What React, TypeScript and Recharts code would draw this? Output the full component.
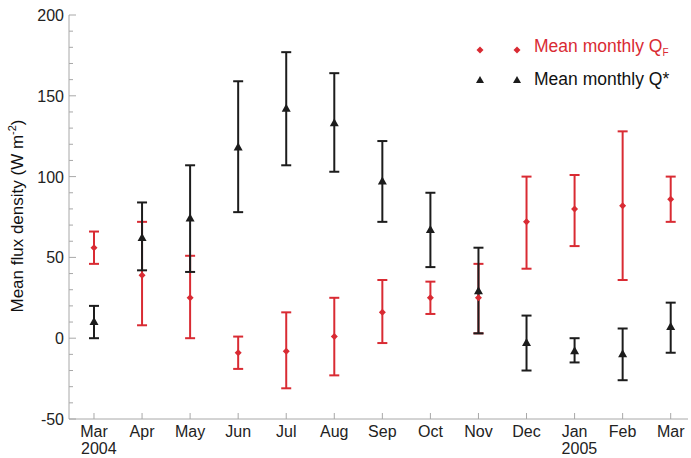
import { ComposedChart, Scatter, ErrorBar, XAxis, YAxis, Label } from 'recharts';

// months, Mar 2004 .. Mar 2005
const months = ['Mar', 'Apr', 'May', 'Jun', 'Jul', 'Aug', 'Sep', 'Oct', 'Nov', 'Dec', 'Jan', 'Feb', 'Mar'];
const years = ['2004', '', '', '', '', '', '', '', '', '', '2005', '', ''];

// mean monthly Q_F (red) with error range
const qfMean = [56, 39, 25, -9, -8, 1, 16, 25, 25, 72, 80, 82, 86];
const qfLow = [46, 8, 0, -19, -31, -23, -3, 15, 3, 43, 57, 36, 72];
const qfHigh = [66, 72, 51, 1, 16, 25, 36, 35, 46, 100, 101, 128, 100];

// mean monthly Q* (black) with error range
const qsMean = [10, 62, 74, 118, 142, 133, 97, 67, 29, -3, -8, -10, 7];
const qsLow = [0, 42, 41, 78, 107, 103, 72, 44, 3, -20, -15, -26, -9];
const qsHigh = [20, 84, 107, 159, 177, 164, 122, 90, 56, 14, 0, 6, 22];

const yTicks = [-50, -40, -30, -20, -10, 0, 10, 20, 30, 40, 50, 60, 70, 80, 90, 100, 110, 120, 130, 140, 150, 160, 170, 180, 190, 200];

const data = months.map((m, i) => ({
  x: i,
  qf: qfMean[i],
  qfErr: [qfMean[i] - qfLow[i], qfHigh[i] - qfMean[i]],
  qs: qsMean[i],
  qsErr: [qsMean[i] - qsLow[i], qsHigh[i] - qsMean[i]],
}));

const W = 691;
const H = 458;
const LEFT = 69;
const RIGHT = 688;
const TOP = 15;
const BOTTOM = 419;
const AXIS = '#a8a8a8';
const RED = '#d92b33';
const BLACK = '#1c1c1c';
const FONT = '"Liberation Sans", Arial, sans-serif';

const Diamond = (props: any) => {
  const { cx, cy } = props;
  if (cx == null || cy == null) return null;
  const r = 3.5;
  return <polygon points={`${cx},${cy - r} ${cx + r},${cy} ${cx},${cy + r} ${cx - r},${cy}`} fill={RED} />;
};

const Triangle = (props: any) => {
  const { cx, cy } = props;
  if (cx == null || cy == null) return null;
  return <polygon points={`${cx},${cy - 5} ${cx + 4.5},${cy + 3} ${cx - 4.5},${cy + 3}`} fill={BLACK} />;
};

const LeftTick = (props: any) => {
  const { y, payload } = props;
  const major = payload.value % 50 === 0;
  return (
    <g>
      <line x1={LEFT} x2={LEFT + (major ? 7 : 4)} y1={y} y2={y} stroke={AXIS} />
      {major && (
        <text x={LEFT - 5} y={y} dy={6} textAnchor="end" fontSize={16} fill="#222" fontFamily={FONT}>
          {payload.value}
        </text>
      )}
    </g>
  );
};

const RightTick = (props: any) => {
  const { y, payload } = props;
  const major = payload.value % 50 === 0;
  return <line x1={RIGHT} x2={RIGHT - (major ? 7 : 4)} y1={y} y2={y} stroke={AXIS} />;
};

const BottomTick = (props: any) => {
  const { x, payload } = props;
  const i = payload.value;
  return (
    <g>
      <line x1={x} x2={x} y1={BOTTOM} y2={BOTTOM - 6} stroke={AXIS} />
      <text x={x} y={437} textAnchor="middle" fontSize={16} fill="#222" fontFamily={FONT}>
        {months[i]}
      </text>
      {years[i] && (
        <text x={x - 13} y={454} textAnchor="start" fontSize={16} fill="#222" fontFamily={FONT}>
          {years[i]}
        </text>
      )}
    </g>
  );
};

const TopTick = (props: any) => {
  const { x } = props;
  return <line x1={x} x2={x} y1={TOP} y2={TOP + 6} stroke={AXIS} />;
};

const YLabel = () => (
  <text transform={`translate(23, 216) rotate(-90)`} textAnchor="middle" fontSize={17} fill="#111" fontFamily={FONT}>
    Mean flux density (W m
    <tspan dy={-7} fontSize={11}>-2</tspan>
    <tspan dy={7}>)</tspan>
  </text>
);

const LegendMarks = ({ kind }: { kind: 'd' | 't' }) => (
  <svg width={50} height={14} style={{ marginRight: 12 }}>
    {kind === 'd' ? (
      <>
        <polygon points="8,3.5 11.5,7 8,10.5 4.5,7" fill={RED} />
        <polygon points="45,3.5 48.5,7 45,10.5 41.5,7" fill={RED} />
      </>
    ) : (
      <>
        <polygon points="8,3 12,10 4,10" fill={BLACK} />
        <polygon points="45,3 49,10 41,10" fill={BLACK} />
      </>
    )}
  </svg>
);

export default function App() {
  const xTicks = months.map((_, i) => i);
  return (
    <div style={{ position: 'absolute', left: 0, top: 0, width: W, height: H, background: '#fff', fontFamily: FONT }}>
      <ComposedChart width={W} height={H} data={data} margin={{ top: TOP, right: W - RIGHT, bottom: 0, left: 0 }}>
        <XAxis
          dataKey="x"
          type="number"
          domain={[-0.52, 12.36]}
          ticks={xTicks}
          interval={0}
          height={H - BOTTOM}
          stroke={AXIS}
          tickLine={false}
          tick={BottomTick}
          allowDataOverflow
        />
        <XAxis
          xAxisId="top"
          orientation="top"
          type="number"
          domain={[-0.52, 12.36]}
          ticks={xTicks}
          interval={0}
          height={0}
          stroke={AXIS}
          tickLine={false}
          tick={TopTick}
          allowDataOverflow
        />
        <YAxis
          type="number"
          domain={[-50, 200]}
          ticks={yTicks}
          interval={0}
          width={LEFT}
          stroke={AXIS}
          tickLine={false}
          tick={LeftTick}
          allowDataOverflow
        >
          <Label content={YLabel} />
        </YAxis>
        <YAxis
          yAxisId="right"
          orientation="right"
          type="number"
          domain={[-50, 200]}
          ticks={yTicks}
          interval={0}
          width={0}
          stroke={AXIS}
          tickLine={false}
          tick={RightTick}
          allowDataOverflow
        />
        <Scatter dataKey="qf" shape={Diamond} isAnimationActive={false}>
          <ErrorBar dataKey="qfErr" direction="y" width={5} stroke={RED} strokeWidth={2} isAnimationActive={false} />
        </Scatter>
        <Scatter dataKey="qs" shape={Triangle} isAnimationActive={false}>
          <ErrorBar dataKey="qsErr" direction="y" width={5} stroke={BLACK} strokeWidth={2} isAnimationActive={false} />
        </Scatter>
      </ComposedChart>
      <div style={{ position: 'absolute', left: 472, top: 33, fontSize: 17.5, lineHeight: '27px' }}>
        <div style={{ display: 'flex', alignItems: 'center', color: RED }}>
          <LegendMarks kind="d" />
          <span>
            Mean monthly Q<sub style={{ fontSize: 10, verticalAlign: -4 }}>F</sub>
          </span>
        </div>
        <div style={{ display: 'flex', alignItems: 'center', color: '#111' }}>
          <LegendMarks kind="t" />
          <span>Mean monthly Q*</span>
        </div>
      </div>
    </div>
  );
}
